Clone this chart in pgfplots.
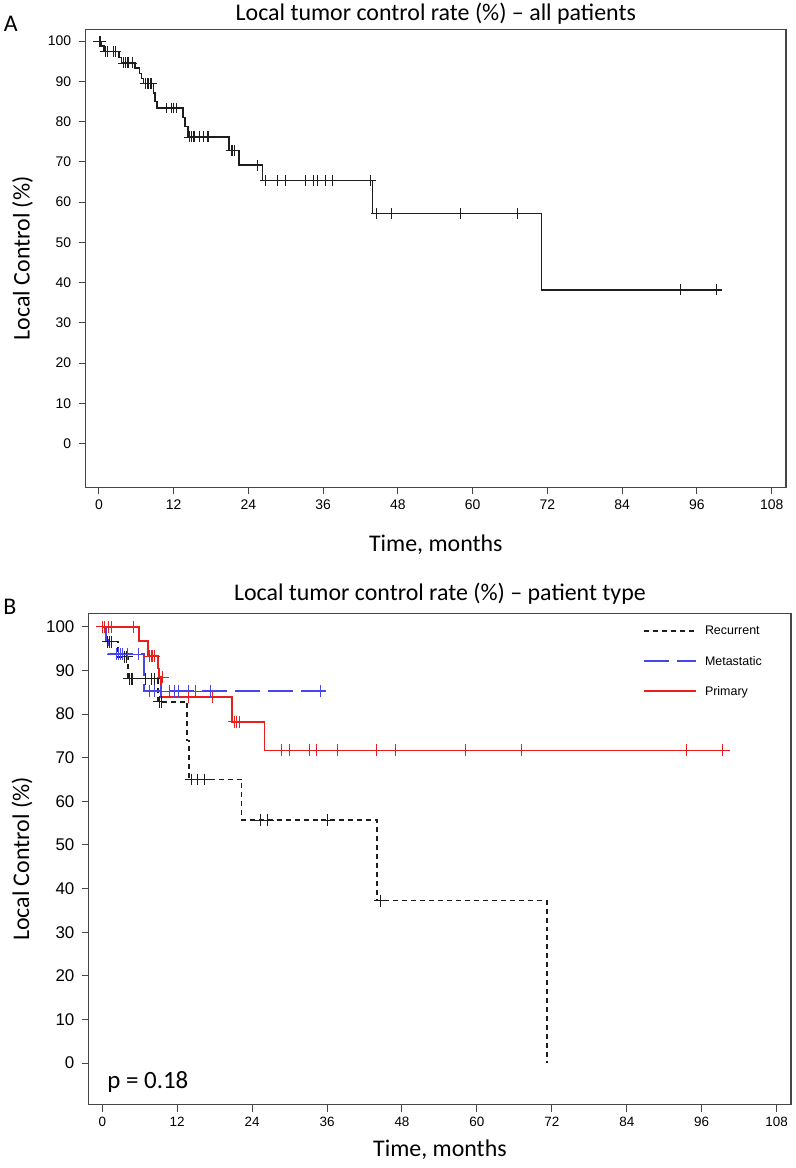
\documentclass[border=0pt]{standalone}
\usepackage{pgfplots}
\pgfplotsset{compat=1.18}
\usepackage{fontspec}
\setmainfont{Carlito}
\newfontfamily\arialfont{Liberation Sans}
\definecolor{kmred}{RGB}{235,30,30}
\definecolor{kmblue}{RGB}{70,70,235}
\definecolor{kmblack}{RGB}{30,30,30}
\definecolor{axgray}{RGB}{70,70,70}
\pgfplotsset{
  kmaxis/.style={
    scale only axis,
    xmin=-2.15, xmax=110.3,
    xtick={0,12,...,108}, ytick={0,10,...,100},
    tick align=outside, tick pos=left,
    major tick length=7pt,
    axis line style={axgray, line width=1.2pt},
    every tick/.style={axgray, line width=1pt},
    /pgf/number format/assume math mode=true,
    yticklabel style={xshift=-4pt},
    xticklabel style={yshift=-2pt},
  }
}
\begin{document}
\begin{tikzpicture}
\path (0,0) rectangle (797pt,1168pt);
\node[font=\fontsize{24}{28}\selectfont] at (9pt,1148pt) {A};
\node[font=\fontsize{24}{28}\selectfont] at (8pt,563pt) {B};
% ---------------- Panel A ----------------
\begin{axis}[kmaxis,
  at={(84pt,683pt)}, anchor=south west,
  width=703pt, height=460pt,
  ymin=-10.9, ymax=103,
  tick label style={font=\arialfont\fontsize{14}{16}\selectfont},
  title={Local tumor control rate (\%) – all patients},
  every axis title/.style={at={(axis description cs:0.5,1.033)}, anchor=center, font=\fontsize{24}{28}\selectfont},
  xlabel={Time, months},
  every axis x label/.style={at={(axis description cs:0.5,-0.126)}, anchor=center, font=\fontsize{24}{28}\selectfont},
  ylabel={Local Control (\%)},
  every axis y label/.style={at={(axis description cs:-0.09,0.5)}, rotate=90, anchor=center, font=\fontsize{24}{28}\selectfont},
]
\addplot[const plot, kmblack, line width=1.3pt] coordinates {
(0,100) (0.4,98.8) (0.8,97.4) (3.2,96.0) (3.6,94.6) (5.8,93.3) (6.5,92.0)
(6.8,90.7) (7.2,89.4) (8.8,87.1) (9.0,85.0) (9.3,83.4) (13.5,81.1)
(13.8,78.8) (14.3,76.2) (20.9,72.9) (22.5,69.2) (26.3,65.4) (43.9,57.2)
(71.1,38.2) (100.1,38.2)
};
\addplot[only marks, mark=+, mark size=5.5pt, kmblack, mark options={line width=0.8pt}] coordinates {
(0,100) (0.2,100)
(1.0,97.4) (1.3,97.4) (2.4,97.4) (2.6,97.4)
(4.0,94.6) (4.2,94.6) (4.5,94.6) (4.8,94.6) (5.3,94.6)
(7.4,89.4) (7.7,89.4) (8.0,89.4) (8.2,89.4) (8.5,89.4)
(10.8,83.4) (11.6,83.4) (11.9,83.4) (12.4,83.4)
(14.5,76.2) (14.8,76.2) (15.1,76.2) (15.3,76.2) (16.1,76.2) (16.7,76.2) (17.4,76.2) (17.6,76.2)
(21.2,72.9) (21.5,72.9) (21.7,72.9)
(25.5,69.2)
(26.8,65.4) (28.7,65.4) (30.0,65.4) (33.2,65.4) (34.5,65.4) (35.1,65.4) (36.4,65.4) (37.5,65.4) (43.6,65.4)
(44.6,57.2) (46.9,57.2) (58.0,57.2) (67.1,57.2)
(93.3,38.2) (99.2,38.2)
};
\end{axis}
% ---------------- Panel B ----------------
\begin{axis}[kmaxis,
  at={(87.3pt,63.7pt)}, anchor=south west,
  width=704.7pt, height=492.6pt,
  ymin=-9.5, ymax=103,
  xticklabel style={font=\arialfont\fontsize{13.5}{15}\selectfont},
  yticklabel style={font=\arialfont\fontsize{17}{19}\selectfont},
  title={Local tumor control rate (\%) – patient type},
  every axis title/.style={at={(axis description cs:0.5,1.04)}, anchor=center, font=\fontsize{24}{28}\selectfont},
  xlabel={Time, months},
  every axis x label/.style={at={(axis description cs:0.5,-0.093)}, anchor=center, font=\fontsize{24}{28}\selectfont},
  ylabel={Local Control (\%)},
  every axis y label/.style={at={(axis description cs:-0.095,0.5)}, rotate=90, anchor=center, font=\fontsize{24}{28}\selectfont},
  legend style={at={(axis description cs:0.785,0.983)}, anchor=north west,
    draw=none, fill=none, font=\arialfont\fontsize{12.5}{14}\selectfont,
    row sep=16pt, /tikz/every odd column/.append style={column sep=6pt}},
  legend cell align=left,
  legend image code/.code={\draw[#1, line width=2pt] (0pt,0.5pt) -- (52pt,0.5pt);},
]
\addplot[const plot, color=kmblack, line width=1.4pt, dash pattern=on 5pt off 4pt] coordinates {
(0,100) (0.5,96.6) (2.5,93.1) (4.1,88.1) (8.9,82.8) (13.6,74.0) (13.9,65.0)
(22.3,55.7) (44.0,37.2) (71.2,0)
};
\addlegendentry{Recurrent}
\addplot[const plot, draw=kmblue, line width=1.9pt, dash pattern=on 25pt off 8pt] coordinates {
(0,100) (0.6,96.9) (0.9,93.7) (6.7,85.2) (35.8,85.2)
};
\addlegendentry{Metastatic}
\addplot[const plot, color=kmred, line width=1.5pt] coordinates {
(0,100) (5.9,96.7) (7.3,93.3) (8.9,90.4) (9.1,88.5) (9.4,83.9) (20.8,78.2)
(26.0,71.7) (100.5,71.7)
};
\addlegendentry{Primary}
\addplot[forget plot, only marks, mark=+, mark size=6pt, color=kmblack, mark options={solid, line width=0.8pt}] coordinates {
(0,100)
(0.9,96.6) (1.2,96.6) (1.4,96.6)
(3.5,93.1) (3.9,93.1)
(4.3,88.1) (4.6,88.1) (4.9,88.1) (6.9,88.1) (7.8,88.1) (8.3,88.1)
(9.1,82.8) (9.4,82.8)
(14.2,65.0) (15.3,65.0) (16.4,65.0)
(25.4,55.7) (26.5,55.7) (36.1,55.7)
(44.5,37.2)
};
\addplot[forget plot, only marks, mark=+, mark size=6pt, color=kmblue, mark options={solid, line width=0.9pt}] coordinates {
(2.3,93.7) (2.6,93.7) (2.9,93.7) (3.3,93.7) (4.1,93.7) (5.8,93.7)
(7.5,85.2) (8.3,85.2) (9.3,85.2) (10.7,85.2) (11.5,85.2) (12.2,85.2)
(13.8,85.2) (15.0,85.2) (17.4,85.2) (34.9,85.2)
};
\addplot[forget plot, only marks, mark=+, mark size=6pt, color=kmred, mark options={solid, line width=0.9pt}] coordinates {
(0,100) (0.4,100) (1.0,100) (1.5,100) (5.0,100)
(7.5,93.3) (7.8,93.3) (8.1,93.3) (8.3,93.3)
(9.7,88.5)
(13.8,83.9) (17.6,83.9)
(21.1,78.2) (21.5,78.2) (21.9,78.2)
(28.7,71.7) (29.9,71.7) (33.1,71.7) (34.3,71.7) (37.6,71.7) (43.9,71.7)
(47.0,71.7) (58.1,71.7) (67.2,71.7) (93.5,71.7) (99.3,71.7)
};
\node[font=\fontsize{25}{30}\selectfont] at (axis cs:7.3,-4.3) {p = 0.18};
\end{axis}
\end{tikzpicture}
\end{document}
